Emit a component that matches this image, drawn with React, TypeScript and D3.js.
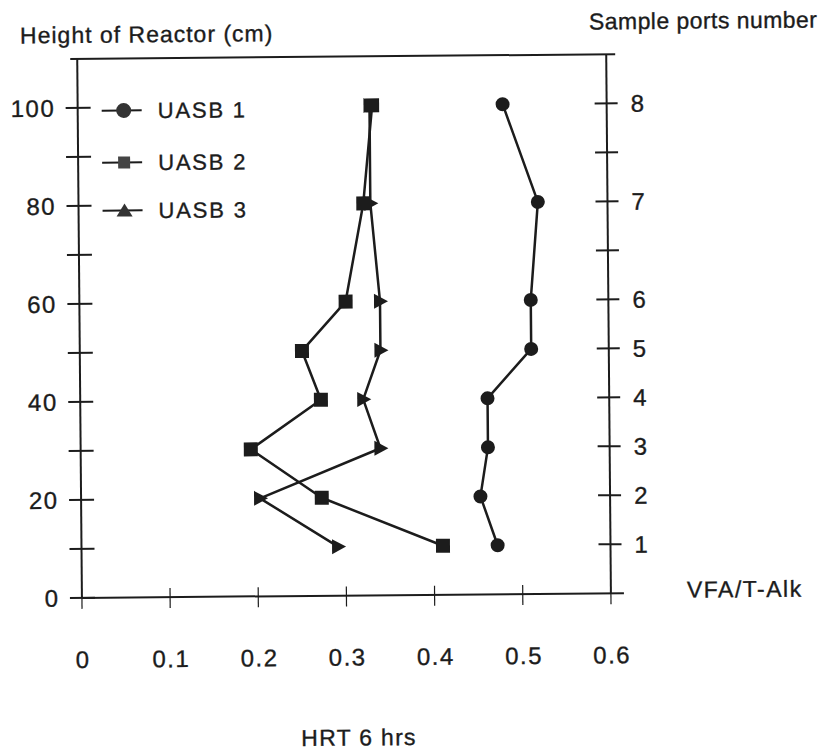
import React from 'react';
import * as d3 from 'd3';

// ---- data ----
const heights = [10, 20, 30, 40, 50, 60, 80, 100];
const uasb1 = [0.472, 0.453, 0.462, 0.462, 0.512, 0.512, 0.521, 0.482];
const uasb2 = [0.41, 0.273, 0.193, 0.273, 0.252, 0.302, 0.323, 0.334];
const uasb3 = [0.291, 0.203, 0.34, 0.321, 0.341, 0.341, 0.331, 0.331];
const seriesNames = ['UASB 1', 'UASB 2', 'UASB 3'];
const xTicks = [0, 0.1, 0.2, 0.3, 0.4, 0.5, 0.6];
const xTickLabels = ['0', '0.1', '0.2', '0.3', '0.4', '0.5', '0.6'];
const yTicks = [0, 10, 20, 30, 40, 50, 60, 70, 80, 90, 100];
const yTickLabels = [0, 20, 40, 60, 80, 100];
const portTicks = [10, 20, 30, 40, 50, 60, 70, 80, 90, 100];
const portHeights = [10, 20, 30, 40, 50, 60, 80, 100];
const portLabels = ['1', '2', '3', '4', '5', '6', '7', '8'];

const INK = '#1c1c1c';
const FONT = '"Liberation Sans", Arial, Helvetica, sans-serif';

export default function App() {
  const x = d3.scaleLinear().domain([0, 0.6]).range([80, 609]);
  const y = d3.scaleLinear().domain([0, 110]).range([595, 56]);
  const x0 = x(0);
  const x1 = x(0.6);
  const yTop = y(110);
  const yBot = y(0);

  const line = d3
    .line<[number, number]>()
    .x((d) => x(d[0]))
    .y((d) => y(d[1]));

  const pts = (vals: number[]) => vals.map((v, i) => [v, heights[i]] as [number, number]);
  const s1 = pts(uasb1);
  const s2 = pts(uasb2);
  const s3 = pts(uasb3);

  const tri = (cx: number, cy: number) =>
    `M${cx - 6},${cy - 7.5}L${cx - 6},${cy + 7.5}L${cx + 8},${cy}Z`;
  const triUp = (cx: number, cy: number) =>
    `M${cx - 8},${cy + 6}L${cx + 8},${cy + 6}L${cx},${cy - 7}Z`;

  const legendY = [108, 160, 208];
  const legX0 = 104;
  const legX1 = 144;
  const legMid = 126;

  const tickLs = 1.5;
  const textStroke = { stroke: INK, strokeWidth: 0.35 };

  return (
    <svg
      width={822}
      height={750}
      style={{ position: 'absolute', left: 0, top: 0, background: '#fff' }}
      fontFamily={FONT}
    >
      <rect x={0} y={0} width={822} height={750} fill="#fff" />
      <g transform="rotate(-0.5 411 375)" fill={INK}>
        {/* titles */}
        <text x={23} y={40} fontSize={23} letterSpacing={1} {...textStroke}>
          Height of Reactor (cm)
        </text>
        <text x={592} y={31} fontSize={23} letterSpacing={0.45} {...textStroke}>
          Sample ports number
        </text>
        <text x={685} y={600} fontSize={23} letterSpacing={1.5} {...textStroke}>
          VFA/T-Alk
        </text>
        <text x={298} y={745} fontSize={23} letterSpacing={1.3} {...textStroke}>
          HRT 6 hrs
        </text>

        {/* frame */}
        <line x1={x0 - 7} x2={x1 + 9} y1={yTop} y2={yTop} stroke={INK} strokeWidth={2} />
        <line x1={x0} x2={x0} y1={yTop} y2={yBot} stroke={INK} strokeWidth={2} />
        <line x1={x1} x2={x1} y1={yTop} y2={yBot} stroke={INK} strokeWidth={2} />
        <line x1={x0} x2={x1 + 13} y1={yBot} y2={yBot} stroke={INK} strokeWidth={2} />

        {/* left ticks */}
        {yTicks.map((t) => (
          <line key={'yl' + t} x1={x0 - 12} x2={x0 + 13} y1={y(t)} y2={y(t)} stroke={INK} strokeWidth={2} />
        ))}
        {yTickLabels.map((t) => (
          <text
            key={'ylab' + t}
            x={56 + tickLs}
            y={y(t)}
            dy="0.36em"
            textAnchor="end"
            fontSize={24}
            letterSpacing={tickLs}
            {...textStroke}
          >
            {t}
          </text>
        ))}

        {/* right ticks */}
        {portTicks.map((t) => (
          <line key={'yr' + t} x1={x1 - 12} x2={x1 + 11} y1={y(t)} y2={y(t)} stroke={INK} strokeWidth={2} />
        ))}
        {portHeights.map((h, i) => (
          <text key={'pl' + h} x={x1 + 24} y={y(h)} dy="0.36em" fontSize={24} {...textStroke}>
            {portLabels[i]}
          </text>
        ))}

        {/* x ticks */}
        {xTicks.map((t, i) => {
          const edge = i === 0 || i === xTicks.length - 1;
          return (
            <line
              key={'xt' + t}
              x1={x(t)}
              x2={x(t)}
              y1={edge ? yBot : yBot - 9}
              y2={yBot + 11}
              stroke={INK}
              strokeWidth={1.2}
            />
          );
        })}
        {xTicks.map((t, i) => (
          <text
            key={'xl' + t}
            x={x(t) + tickLs / 2}
            y={665}
            textAnchor="middle"
            fontSize={24}
            letterSpacing={tickLs}
            {...textStroke}
          >
            {xTickLabels[i]}
          </text>
        ))}

        {/* series lines */}
        <path d={line(s3) || ''} fill="none" stroke={INK} strokeWidth={2.5} strokeLinejoin="round" />
        <path d={line(s2) || ''} fill="none" stroke={INK} strokeWidth={2.5} strokeLinejoin="round" />
        <path d={line(s1) || ''} fill="none" stroke={INK} strokeWidth={2.5} strokeLinejoin="round" />

        {/* markers */}
        {s3.map((d, i) => (
          <path key={'m3' + i} d={tri(x(d[0]), y(d[1]))} fill={INK} />
        ))}
        {s2.map((d, i) => (
          <rect key={'m2' + i} x={x(d[0]) - 7} y={y(d[1]) - 7} width={14} height={14} fill={INK} />
        ))}
        {s1.map((d, i) => (
          <circle key={'m1' + i} cx={x(d[0])} cy={y(d[1])} r={7} fill={INK} />
        ))}

        {/* legend */}
        {seriesNames.map((name, i) => (
          <g key={name}>
            <line x1={legX0} x2={legX1} y1={legendY[i]} y2={legendY[i]} stroke={INK} strokeWidth={2} />
            {i === 0 && <circle cx={legMid} cy={legendY[i]} r={7.5} fill="#333" />}
            {i === 1 && <rect x={legMid - 6} y={legendY[i] - 6} width={12} height={12} fill="#444" />}
            {i === 2 && <path d={triUp(legMid, legendY[i])} fill="#333" />}
            <text x={160} y={legendY[i]} dy="0.36em" fontSize={22} letterSpacing={1.8} {...textStroke}>
              {name}
            </text>
          </g>
        ))}
      </g>
    </svg>
  );
}
